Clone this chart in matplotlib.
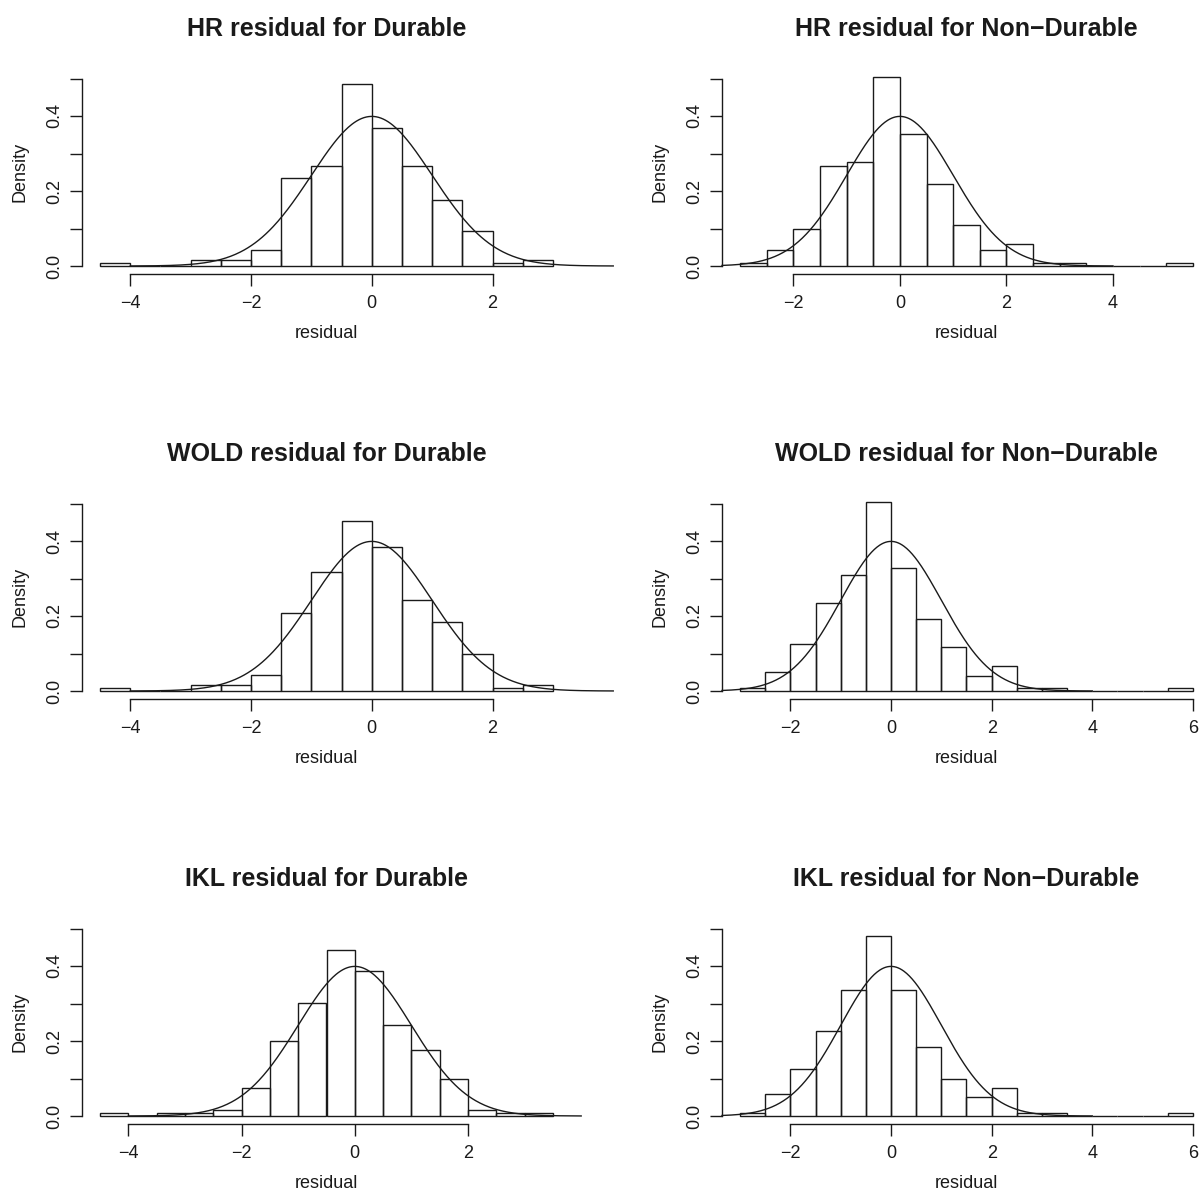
import numpy as np
import matplotlib
matplotlib.use("Agg")
import matplotlib.pyplot as plt

plt.rcParams['font.family'] = ['Liberation Sans', 'DejaVu Sans']

# ---- data: histogram densities (bin width 0.5) per model / sector ----
bin_width = 0.5

hr_durable_start = -4.5
hr_durable = [0.009, 0.0, 0.0, 0.017, 0.017, 0.042, 0.235, 0.268, 0.486,
              0.369, 0.268, 0.177, 0.093, 0.009, 0.017]

hr_nondurable_start = -3.0
hr_nondurable = [0.009, 0.042, 0.100, 0.268, 0.277, 0.504, 0.351, 0.219, 0.110,
                 0.042, 0.059, 0.009, 0.009, 0.0, 0.0, 0.0, 0.009]

wold_durable_start = -4.5
wold_durable = [0.009, 0.0, 0.0, 0.017, 0.017, 0.042, 0.209, 0.318, 0.453,
                0.385, 0.242, 0.185, 0.100, 0.009, 0.017]

wold_nondurable_start = -3.0
wold_nondurable = [0.009, 0.050, 0.125, 0.235, 0.309, 0.504, 0.327, 0.193, 0.117,
                   0.041, 0.066, 0.009, 0.009, 0.0, 0.0, 0.0, 0.0, 0.009]

ikl_durable_start = -4.5
ikl_durable = [0.009, 0.0, 0.009, 0.009, 0.017, 0.075, 0.201, 0.302, 0.444,
               0.386, 0.242, 0.175, 0.100, 0.017, 0.009, 0.009]

ikl_nondurable_start = -3.0
ikl_nondurable = [0.009, 0.058, 0.126, 0.226, 0.335, 0.479, 0.335, 0.185, 0.100,
                  0.050, 0.075, 0.009, 0.009, 0.0, 0.0, 0.0, 0.0, 0.009]

titles = [
    "HR residual for Durable", "HR residual for Non\u2212Durable",
    "WOLD residual for Durable", "WOLD residual for Non\u2212Durable",
    "IKL residual for Durable", "IKL residual for Non\u2212Durable",
]
starts = [hr_durable_start, hr_nondurable_start, wold_durable_start,
          wold_nondurable_start, ikl_durable_start, ikl_nondurable_start]
densities = [hr_durable, hr_nondurable, wold_durable,
             wold_nondurable, ikl_durable, ikl_nondurable]
x_ticks = [[-4, -2, 0, 2], [-2, 0, 2, 4], [-4, -2, 0, 2],
           [-2, 0, 2, 4, 6], [-4, -2, 0, 2], [-2, 0, 2, 4, 6]]
y_ticks = [0.0, 0.1, 0.2, 0.3, 0.4, 0.5]
y_tick_labels = ["0.0", "", "0.2", "", "0.4", ""]

# ---- layout in pixels ----
W, H, DPI = 1203, 1193, 100
col_left = [82, 722]
panel_w = 489
row_top = [71, 496, 921]
panel_h = 202.5
ink = "#1a1a1a"

fig = plt.figure(figsize=(W / DPI, H / DPI), dpi=DPI)

for i in range(6):
    r, c = divmod(i, 2)
    left = col_left[c] / W
    bottom = 1 - (row_top[r] + panel_h) / H
    ax = fig.add_axes([left, bottom, panel_w / W, panel_h / H])

    dens = np.asarray(densities[i])
    edges = starts[i] + bin_width * np.arange(len(dens) + 1)
    ax.bar(edges[:-1], dens, width=bin_width, align='edge', fill=False,
           edgecolor=ink, linewidth=1.0)

    lo, hi = edges[0], edges[-1]
    span = hi - lo
    xlo, xhi = lo - 0.04 * span, hi + 0.04 * span
    ax.set_xlim(xlo, xhi)
    ax.set_ylim(-0.02, 0.52)

    # standard normal reference density
    xs = np.linspace(max(-4.0, xlo), 4.0, 400)
    ax.plot(xs, np.exp(-xs ** 2 / 2) / np.sqrt(2 * np.pi), color=ink,
            linewidth=1.0, clip_on=False)

    for s in ("top", "right"):
        ax.spines[s].set_visible(False)
    ax.spines['left'].set_bounds(0, 0.5)
    ax.spines['bottom'].set_bounds(x_ticks[i][0], x_ticks[i][-1])
    for s in ("left", "bottom"):
        ax.spines[s].set_color(ink)
        ax.spines[s].set_linewidth(1.0)

    ax.set_xticks(x_ticks[i])
    ax.set_xticklabels([str(v).replace('-', '\u2212') for v in x_ticks[i]])
    ax.set_yticks(y_ticks)
    ax.set_yticklabels(y_tick_labels, rotation=90, va='center')
    ax.tick_params(length=8.5, width=1.0, color=ink, labelsize=13,
                   labelcolor=ink, pad=7)
    ax.tick_params(axis='y', pad=5)

    ax.set_xlabel("residual", fontsize=13, color=ink)
    ax.xaxis.set_label_coords(0.5, -0.255)
    ax.set_ylabel("Density", fontsize=13, color=ink)
    ax.yaxis.set_label_coords(-0.110, 0.5)

    ax.set_title(titles[i], fontsize=18, fontweight='bold', color=ink, pad=25)

fig.savefig("out.png", dpi=DPI)
